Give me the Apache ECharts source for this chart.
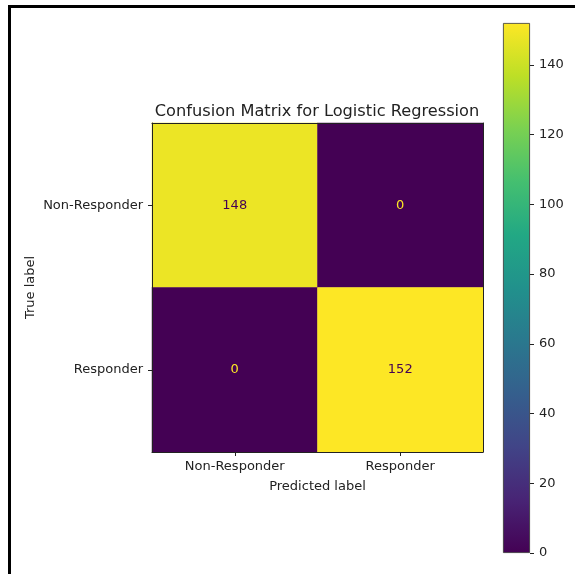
<!DOCTYPE html>
<html>
<head>
<meta charset="utf-8">
<script src="https://cdn.jsdelivr.net/npm/echarts@6/dist/echarts.min.js"></script>
<style>
html,body{margin:0;padding:0;background:#fff;}
#chart{position:absolute;left:0;top:0;width:575px;height:574px;}
#frame{position:absolute;left:8px;top:5px;width:580px;height:580px;border-left:3px solid #000;border-top:3px solid #000;pointer-events:none;}
</style>
</head>
<body>
<div id="chart"></div>
<div id="frame"></div>
<script>
// Data
const predictedLabels = ['Non-Responder', 'Responder'];
const trueLabels = ['Non-Responder', 'Responder'];
// counts[trueIndex][predIndex]
const counts = [
  [148, 0],
  [0, 152]
];
const colorbarMin = 0;
const colorbarMax = 152;
const colorbarInterval = 20;

const viridis = ['#440154','#482475','#414487','#355f8d','#2a788e','#21918c','#22a884','#44bf70','#7ad151','#bddf26','#fde725'];

const heatData = [];
counts.forEach((row, t) => row.forEach((v, p) => heatData.push([p, t, v])));

const font = 'DejaVu Sans';
const txt = '#222';

const chart = echarts.init(document.getElementById('chart'), null, {renderer: 'canvas'});
chart.setOption({
  backgroundColor: '#fff',
  animation: false,
  title: {
    text: 'Confusion Matrix for Logistic Regression',
    left: 312,
    textAlign: 'center',
    top: 99,
    textStyle: {fontFamily: font, fontSize: 16.2, fontWeight: 'normal', color: txt}
  },
  grid: [
    {left: 152, top: 123, width: 331, height: 329, containLabel: false},
    {left: 503, top: 23, width: 27, height: 530, containLabel: false}
  ],
  xAxis: [
    {
      type: 'category', gridIndex: 0, data: predictedLabels, position: 'bottom', z: 10,
      name: 'Predicted label', nameLocation: 'middle', nameGap: 28, nameMoveOverlap: false,
      nameTextStyle: {fontFamily: font, fontSize: 13, color: txt},
      axisLine: {show: true, lineStyle: {color: '#222', width: 1}},
      axisTick: {show: true, alignWithLabel: true, length: 4, lineStyle: {color: '#222'}},
      axisLabel: {fontFamily: font, fontSize: 13, color: txt, margin: 8},
      splitLine: {show: false}
    },
    {
      type: 'category', gridIndex: 0, data: predictedLabels, position: 'top', z: 10,
      axisLine: {show: true, lineStyle: {color: '#222', width: 1}},
      axisTick: {show: false}, axisLabel: {show: false}, splitLine: {show: false}
    },
    {
      type: 'category', gridIndex: 1, data: ['cb'], show: false
    }
  ],
  yAxis: [
    {
      type: 'category', gridIndex: 0, data: trueLabels, inverse: true, position: 'left', z: 10,
      name: 'True label', nameLocation: 'middle', nameGap: 115, nameMoveOverlap: false,
      nameTextStyle: {fontFamily: font, fontSize: 13, color: txt},
      axisLine: {show: true, lineStyle: {color: '#222', width: 1}},
      axisTick: {show: true, alignWithLabel: true, length: 4, lineStyle: {color: '#222'}},
      axisLabel: {fontFamily: font, fontSize: 13, color: txt, margin: 9},
      splitLine: {show: false}
    },
    {
      type: 'category', gridIndex: 0, data: trueLabels, inverse: true, position: 'right', z: 10,
      axisLine: {show: true, lineStyle: {color: '#222', width: 1}},
      axisTick: {show: false}, axisLabel: {show: false}, splitLine: {show: false}
    },
    {
      type: 'value', gridIndex: 1, min: colorbarMin, max: colorbarMax, interval: colorbarInterval,
      position: 'right',
      axisLine: {show: false},
      axisTick: {show: true, length: 4, lineStyle: {color: '#222'}},
      axisLabel: {fontFamily: font, fontSize: 13, color: txt, margin: 9, showMaxLabel: false},
      splitLine: {show: false}
    }
  ],
  visualMap: {
    type: 'continuous', show: false, seriesIndex: 0,
    min: colorbarMin, max: colorbarMax, inRange: {color: viridis}
  },
  series: [
    {
      type: 'heatmap', xAxisIndex: 0, yAxisIndex: 0,
      data: heatData.map(d => ({
        value: d,
        label: {color: d[2] > (colorbarMax / 2) ? '#440154' : '#fde725'}
      })),
      label: {
        show: true, fontFamily: font, fontSize: 13,
        formatter: p => String(p.value[2])
      },
      itemStyle: {borderWidth: 0},
      emphasis: {disabled: true}
    },
    {
      type: 'bar', xAxisIndex: 2, yAxisIndex: 2, barWidth: '100%',
      data: [{
        value: colorbarMax,
        itemStyle: {
          color: {
            type: 'linear', x: 0, y: 1, x2: 0, y2: 0,
            colorStops: viridis.map((c, i) => ({offset: i / (viridis.length - 1), color: c}))
          },
          borderColor: '#333', borderWidth: 0.8
        }
      }],
      silent: true
    }
  ]
});
</script>
</body>
</html>
